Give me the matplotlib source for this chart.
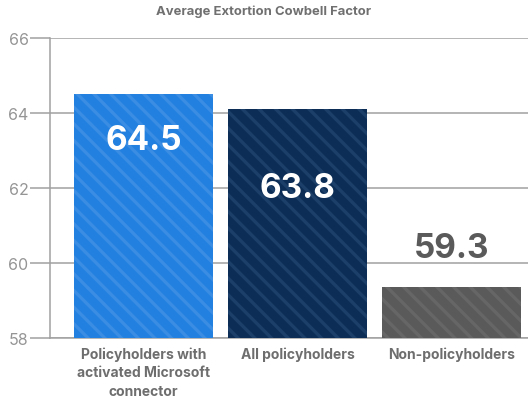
import matplotlib
matplotlib.use("Agg")
import matplotlib.pyplot as plt

categories = ["Policyholders with\nactivated Microsoft\nconnector", "All policyholders", "Non-policyholders"]
bar_values = [64.5, 64.1, 59.35]
value_labels = ["64.5", "63.8", "59.3"]
yticks = [58, 60, 62, 64, 66]
title = "Average Extortion Cowbell Factor"

bar_colors = ["#2180e0", "#0b2d56", "#5a5a5a"]
hatch_colors = ["#3a8de3", "#1c3f69", "#666666"]
label_colors = ["white", "white", "#5a5a5a"]
label_offsets = [-1.23, -2.1, 1.04]

plt.rcParams['font.family'] = ['Inter', 'DejaVu Sans']
plt.rcParams['hatch.linewidth'] = 2.4

fig = plt.figure(figsize=(5.28, 4.02), dpi=100)
ax = fig.add_axes([50/528, 63/402, 478/528, 300/402])

x = list(range(len(categories)))
for i in x:
    ax.bar(i, bar_values[i] - 58, bottom=58, width=0.903, color=bar_colors[i],
           edgecolor=hatch_colors[i], linewidth=0, hatch='\\\\', zorder=3)
    ax.text(i, bar_values[i] + label_offsets[i], value_labels[i], ha='center', va='center',
            fontsize=24, fontweight='bold', color=label_colors[i], zorder=4)

ax.set_xlim(-0.607, 2.497)
ax.set_ylim(58, 66)
ax.set_yticks(yticks)
ax.set_yticklabels([str(t) for t in yticks])
ax.yaxis.grid(True, color='#a0a0a0', linewidth=1.1, zorder=0)
ax.set_xticks(x)
ax.set_xticklabels(categories, fontsize=10, fontweight='bold', color='#6e6e6e', linespacing=1.42)
ax.tick_params(axis='x', length=0, pad=6)
ax.tick_params(axis='y', length=14.4, width=1.1, color='#a0a0a0', labelcolor='#959595',
               labelsize=11.5, pad=1)
for s in ['top', 'right']:
    ax.spines[s].set_visible(False)
ax.spines['left'].set_color('#a0a0a0')
ax.spines['left'].set_linewidth(1.1)
ax.spines['bottom'].set_color('#a0a0a0')
ax.spines['bottom'].set_linewidth(1.1)

fig.text(0.5, 1 - 12/402, title, ha='center', va='center', fontsize=9.4, fontweight='bold', color='#707070')

fig.savefig("out.png", dpi=100)
